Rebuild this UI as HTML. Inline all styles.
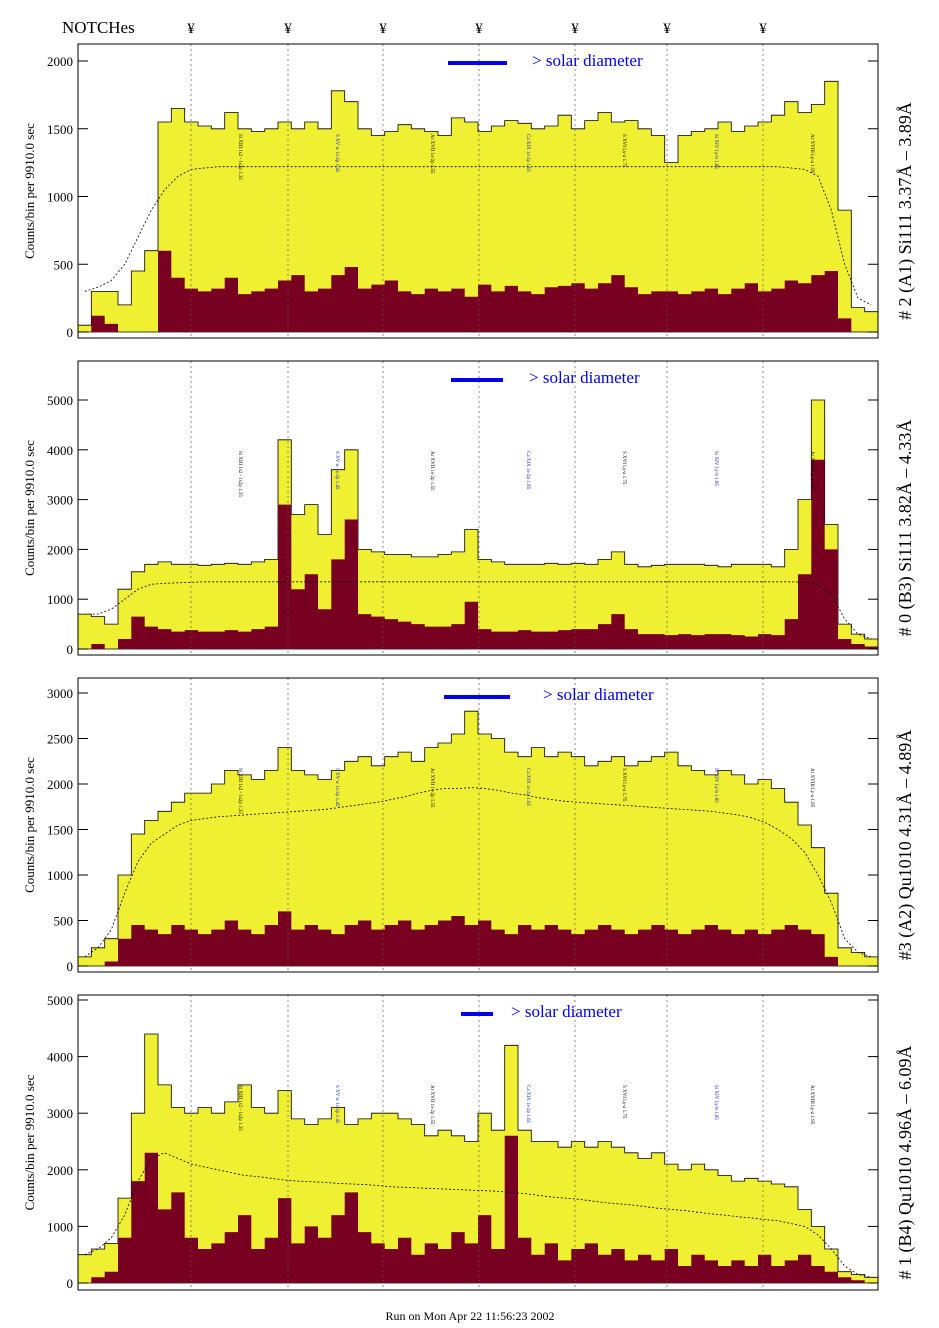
<!DOCTYPE html>
<html><head><meta charset="utf-8">
<style>
body{margin:0;background:#fff;}
svg{display:block;font-family:"Liberation Serif",serif;}
</style></head>
<body>
<svg id="chart" width="939" height="1328" viewBox="0 0 939 1328" xmlns="http://www.w3.org/2000/svg">
<text x="62" y="33" font-size="17">NOTCHes</text>
<text x="470" y="1320" font-size="12" text-anchor="middle">Run on Mon Apr 22 11:56:23 2002</text>
</svg>
<script>
const notchX = [191, 288, 383, 479, 575, 667, 763];
const titles = ["# 2 (A1) Si111  3.37Å – 3.89Å","# 0 (B3) Si111  3.82Å – 4.33Å","#3 (A2) Qu1010  4.31Å – 4.89Å","# 1 (B4) Qu1010 4.96Å – 6.09Å"];
const yMax = [2000, 5000, 3000, 5000];
const yTicks1 = [0,500,1000,1500,2000];
const yTicks2 = [0,1000,2000,3000,4000,5000];
const yTicks3 = [0,500,1000,1500,2000,2500,3000];
const yTicks4 = [0,1000,2000,3000,4000,5000];
const yel1 = [50,300,300,200,450,600,1550,1650,1550,1520,1500,1620,1500,1480,1500,1550,1500,1550,1500,1780,1700,1500,1450,1480,1530,1500,1480,1450,1580,1550,1480,1520,1560,1540,1500,1520,1600,1500,1560,1620,1550,1560,1500,1450,1250,1450,1480,1500,1550,1480,1520,1550,1600,1700,1620,1680,1850,900,180,150];
const red1 = [0,120,60,0,0,0,600,400,320,300,320,400,280,300,320,380,420,300,320,420,480,320,350,380,300,280,320,300,320,260,350,300,340,300,280,330,340,360,320,360,420,330,280,300,300,280,300,320,280,320,360,300,320,380,360,420,450,100,0,0];
const fit1 = [300,330,380,500,700,900,1050,1150,1200,1210,1220,1220,1220,1220,1220,1220,1220,1220,1220,1220,1220,1220,1220,1220,1220,1220,1220,1220,1220,1220,1220,1220,1220,1220,1220,1220,1220,1220,1220,1220,1220,1220,1220,1220,1220,1220,1220,1220,1220,1220,1220,1220,1220,1210,1200,1150,900,500,250,200];
const yel2 = [700,650,500,1200,1550,1700,1750,1700,1700,1680,1700,1720,1700,1750,1800,4200,2700,2900,2300,3600,4000,2000,1950,1900,1900,1850,1850,1900,1950,2400,1800,1750,1700,1700,1700,1720,1700,1720,1700,1800,1950,1700,1650,1680,1700,1700,1700,1680,1650,1700,1700,1700,1650,2000,3000,5000,2500,500,300,200];
const red2 = [0,100,0,200,650,450,400,350,380,350,350,380,350,400,450,2900,1200,1500,800,1800,2600,700,650,600,550,500,450,450,500,950,400,350,350,380,350,350,380,400,400,500,700,400,300,300,280,300,280,300,300,280,250,300,280,600,1500,3800,2000,200,100,50];
const fit2 = [700,700,800,1000,1200,1300,1320,1330,1340,1350,1350,1350,1350,1350,1350,1350,1350,1350,1350,1350,1350,1350,1350,1350,1350,1350,1350,1350,1350,1350,1350,1350,1350,1350,1350,1350,1350,1350,1350,1350,1350,1350,1350,1350,1350,1350,1350,1350,1350,1350,1350,1350,1350,1350,1340,1300,1100,600,300,200];
const yel3 = [100,200,300,1000,1450,1600,1700,1800,1900,1900,2000,2150,2100,2050,2150,2400,2150,2100,2050,2150,2250,2300,2200,2300,2350,2250,2400,2450,2550,2800,2550,2500,2350,2300,2400,2300,2350,2300,2200,2250,2300,2200,2250,2300,2350,2200,2150,2100,2150,2100,2000,2050,1950,1800,1550,1300,800,200,150,100];
const red3 = [0,0,50,300,450,400,350,450,400,350,400,500,400,350,450,600,400,450,400,350,450,500,400,450,500,400,450,500,550,450,500,400,350,450,400,450,400,350,400,450,400,350,400,450,400,350,400,450,400,350,400,350,400,450,400,350,100,0,0,0];
const fit3 = [100,200,400,800,1150,1350,1450,1550,1600,1620,1640,1650,1660,1670,1680,1690,1700,1710,1720,1740,1760,1780,1800,1830,1860,1900,1930,1950,1950,1960,1950,1930,1900,1880,1850,1830,1810,1800,1790,1780,1770,1760,1750,1740,1730,1720,1710,1700,1680,1660,1630,1580,1500,1400,1250,1000,700,300,150,100];
const yel4 = [500,600,700,1500,3000,4400,3500,3100,3000,3100,3000,3200,3500,3100,3000,3400,2900,2800,2900,3100,2800,2900,3000,3000,2900,2800,2600,2700,2600,2500,3000,2700,4200,2700,2500,2500,2400,2500,2400,2500,2400,2300,2200,2300,2100,2000,2100,2000,1900,1800,1850,1800,1750,1700,1300,1000,600,200,150,100];
const red4 = [0,100,200,800,1800,2300,1300,1600,800,600,700,900,1200,600,800,1500,700,1000,800,1200,1600,900,700,600,800,500,700,600,900,700,1200,600,2600,800,500,700,400,600,700,500,600,400,500,400,600,300,500,400,300,400,300,500,300,400,500,300,200,100,50,0];
const fit4 = [500,600,800,1200,1800,2200,2300,2200,2100,2050,2000,1950,1900,1880,1850,1820,1800,1790,1780,1760,1750,1740,1720,1700,1690,1680,1670,1660,1650,1640,1630,1620,1600,1580,1550,1520,1500,1480,1450,1420,1400,1380,1350,1320,1300,1280,1250,1220,1200,1170,1150,1120,1100,1050,1000,850,600,300,150,100];
const lineLabels = ["Si XIII 1s2 - 1s2p","S XV w 1s-2p","Ar XVII 1s-2p","Ca XIX 1s-2p","S XVI Ly-a","Si XIV Ly-b","Ar XVIII Ly-a"];

const panels = [
 {top:44,bot:338,y0:332,yt:61,ticks:yTicks1,yel:yel1,red:red1,fit:fit1,bar:[448,507],bt:532},
 {top:361,bot:655,y0:649,yt:400,ticks:yTicks2,yel:yel2,red:red2,fit:fit2,bar:[451,503],bt:529},
 {top:678,bot:972,y0:966,yt:693,ticks:yTicks3,yel:yel3,red:red3,fit:fit3,bar:[444,510],bt:543},
 {top:995,bot:1290,y0:1283,yt:1000,ticks:yTicks4,yel:yel4,red:red4,fit:fit4,bar:[461,493],bt:511}
];
const NS="http://www.w3.org/2000/svg";
const svg=document.getElementById('chart');
const X0=78, X1=878;
function mk(tag,attrs,parent){const e=document.createElementNS(NS,tag);for(const k in attrs)e.setAttribute(k,attrs[k]);(parent||svg).appendChild(e);return e;}
notchX.forEach(x=>{const t=mk('text',{x:x,y:33,'font-size':15,'text-anchor':'middle'});t.textContent='¥';

});
panels.forEach((p,pi)=>{
 const g=mk('g',{});
 
 
 const max=yMax[pi];
 const ys=v=>p.y0-(p.y0-p.yt)*v/max;
 const n=p.yel.length, bw=(X1-X0)/n;
 const xs=i=>X0+bw*i;
 function stepPath(arr){let d='M'+X0+','+p.y0;arr.forEach((v,i)=>{const y=Math.min(ys(v),p.top+1).toFixed(1);d+=' L'+xs(i).toFixed(1)+','+Math.max(ys(v),p.top+1).toFixed(1)+' L'+xs(i+1).toFixed(1)+','+Math.max(ys(v),p.top+1).toFixed(1);});return d+' L'+X1+','+p.y0+' Z';}
 const yp=mk('path',{d:stepPath(p.yel),fill:'#f0f032',stroke:'#000','stroke-width':0.8},g);
 
 
 const rp=mk('path',{d:stepPath(p.red),fill:'#780020',stroke:'none'},g);
 
 
 let fd='';p.fit.forEach((v,i)=>{fd+=(i?' L':'M')+(xs(i)+bw/2).toFixed(1)+','+ys(v).toFixed(1);});
 const fp=mk('path',{d:fd,fill:'none',stroke:'#000','stroke-width':0.8,'stroke-dasharray':'2,2'},g);
 
 
 notchX.forEach(x=>{const l=mk('line',{x1:x,x2:x,y1:p.top,y2:p.bot,stroke:'#555','stroke-width':0.7,'stroke-dasharray':'2,3'},g);
 
 });
 // small line labels
 notchX.forEach((x,k)=>{const t=mk('text',{transform:`translate(${x+48},${p.top+90}) rotate(90)`,'font-size':5,fill:k%2?'#1020c0':'#000'},g);t.textContent=lineLabels[k]+' 1.'+(k+3)+'5';
 
 });
 const fr=mk('rect',{x:X0,y:p.top,width:X1-X0,height:p.bot-p.top,fill:'none',stroke:'#000','stroke-width':1},g);
 
 
 p.ticks.forEach(v=>{const y=ys(v);mk('line',{x1:X0,x2:X0+10,y1:y,y2:y,stroke:'#000'},g);mk('line',{x1:X1,x2:X1-10,y1:y,y2:y,stroke:'#000'},g);
 const t=mk('text',{x:X0-5,y:y+5,'font-size':13,'text-anchor':'end'},g);t.textContent=v;
 
 });
 const yt=mk('text',{transform:`translate(34,${(p.top+p.bot)/2}) rotate(-90)`,'font-size':13,'text-anchor':'middle'},g);yt.textContent='Counts/bin per    9910.0 sec';
 
 
 const tt=mk('text',{transform:`translate(911,${(p.top+p.bot)/2+20}) rotate(-90)`,'font-size':18,'text-anchor':'middle'},g);tt.textContent=titles[pi];
 
 
 const sb=mk('line',{x1:p.bar[0],x2:p.bar[1],y1:p.top+19,y2:p.top+19,stroke:'#0000ee','stroke-width':4},g);
 
 
 const st=mk('text',{x:p.bt,y:p.top+22,'font-size':17,fill:'#0000ee'},g);st.textContent='> solar diameter';
 
 
});
</script>
</body></html>
